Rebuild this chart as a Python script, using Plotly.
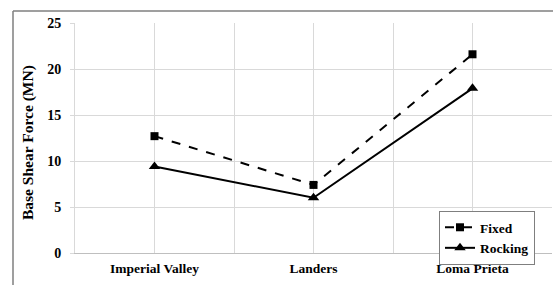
import plotly.graph_objects as go

categories = ["Imperial Valley", "Landers", "Loma Prieta"]
fixed = [12.7, 7.4, 21.6]
rocking = [9.4, 6.0, 17.9]
y_ticks = [0, 5, 10, 15, 20, 25]
y_title = "Base Shear Force (MN)"

xi = list(range(len(categories)))
font_family = "Liberation Serif, Times New Roman, serif"

fig = go.Figure()
fig.add_trace(go.Scatter(
    x=xi, y=fixed, name="<b>Fixed</b>", mode="lines+markers",
    line=dict(color="black", width=2, dash="dash"),
    marker=dict(symbol="square", size=8, color="black"),
))
fig.add_trace(go.Scatter(
    x=xi, y=rocking, name="<b>Rocking</b>", mode="lines+markers",
    line=dict(color="black", width=2),
    marker=dict(symbol="triangle-up", size=10, color="black"),
))

# plot area: left 75, right 552, top 23, bottom 253 (px)
L, R, T, B = 75, 552, 23, 253
W, H = 553, 285
pw, ph = R - L, B - T

fig.update_layout(
    width=W, height=H,
    margin=dict(l=L, r=W - R, t=T, b=H - B, autoexpand=False),
    paper_bgcolor="white", plot_bgcolor="white",
    font=dict(family=font_family, color="black"),
    showlegend=True,
    legend=dict(
        x=(535 - L) / pw, y=(B - 211) / ph, xanchor="right", yanchor="top",
        bordercolor="#7f7f7f", borderwidth=1, bgcolor="white",
        font=dict(family=font_family, size=13.5, color="black"),
        itemwidth=30, tracegroupgap=0,
    ),
    xaxis=dict(
        range=[-0.5, 2.5], tickvals=xi,
        ticktext=[f"<b>{c}</b>" for c in categories],
        tickfont=dict(size=13.5, family=font_family),
        showgrid=True, gridcolor="#d9d9d9", gridwidth=1,
        minor=dict(tick0=-0.5, dtick=1, showgrid=True, gridcolor="#d9d9d9", gridwidth=1),
        showline=True, linecolor="#bfbfbf", linewidth=1,
        ticks="", ticklabelstandoff=3, zeroline=False, automargin=False,
    ),
    yaxis=dict(
        range=[0, 25], tickvals=y_ticks,
        ticktext=[f"<b>{v}</b>" for v in y_ticks],
        tickfont=dict(size=14, family=font_family),
        showgrid=True, gridcolor="#d9d9d9", gridwidth=1,
        showline=True, linecolor="#d9d9d9", linewidth=1,
        ticks="outside", ticklen=4, tickcolor="#d9d9d9",
        ticklabelstandoff=6, zeroline=False, automargin=False,
    ),
    annotations=[
        dict(text=f"<b>{y_title}</b>", textangle=-90, showarrow=False,
             xref="paper", yref="paper", x=(28 - L) / pw, y=(B - 143) / ph,
             xanchor="center", yanchor="middle",
             font=dict(size=15.5, family=font_family, color="black")),
    ],
    shapes=[
        dict(type="line", xref="paper", yref="paper",
             x0=(13 - L) / pw, x1=1.01, y0=(B - 11) / ph, y1=(B - 11) / ph,
             line=dict(color="#7f7f7f", width=1.5)),
        dict(type="line", xref="paper", yref="paper",
             x0=(13 - L) / pw, x1=(13 - L) / pw, y0=(B - 11) / ph, y1=(B - 290) / ph,
             line=dict(color="#7f7f7f", width=1.5)),
    ],
)

fig.write_html("out.html", config={"displayModeBar": False},
               post_script="document.body.style.margin='0';")
